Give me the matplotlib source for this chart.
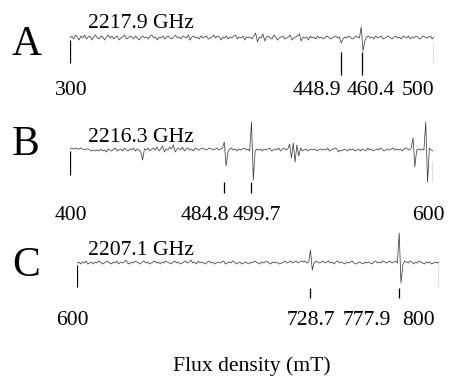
import numpy as np
import matplotlib
matplotlib.use('Agg')
import matplotlib.pyplot as plt

plt.rcParams['font.family'] = ['Liberation Serif', 'DejaVu Serif']

# spectra: signal deviation (px-ish units, up positive), sampled every 1 mT
sig_a = [0, 2, -1, 3, 1, -2, 2, 0, 3, -1, 1, 2, -2, 1, 3, 0, -1, 2, 1, -2,
         1, 3, 0, 2, -1, 1, 2, -2, 0, 1, 3, -1, 0, 2, 1, -1, 2, 0, -2, 1,
         2, 0, 1, -1, 2, 3, 0, 1, -2, 1, 0, 2, -1, 1, 2, 0, -1, 1, 3, 0,
         1, -1, 2, 1, 0, 3, -2, 1, 2, 0, 1, -1, 2, 0, 1, 2, -1, 0, 1, 3,
         0, 2, 1, -2, 1, 0, 2, -1, 1, 0, 2, 3, -1, 1, 0, 2, -2, 1, 0, 1,
         -1, 2, 5, -4, 1, 0, 4, -3, 1, 2, 0, -1, 3, 1, -2, 0, 1, 2, -1, 0,
         1, 3, -2, 0, 1, 2, 4, -3, 1, 0, 1, -2, 2, 0, 1, -1, 2, 0, 1, -1,
         0, 2, 1, -1, 0, 1, 2, 0, 1, -5, -1, 1, 0, 2, 1, -1, 0, 2, 1, 0,
         11, -13, -3, 1, 2, 0, 1, -1, 2, 0, 1, 2, -1, 0, 1, 2, 0, -1, 1, 2,
         0, 1, -1, 2, 1, 0, 2, -1, 1, 0, 2, 1, -1, 0, 2, 1, 0, 1, 2, -1, 1]

sig_b = [1, 2, 1, 2, 1, 1, 2, 1, 0, 1, 1, 0, -1, 0, -1, 0, -1, 1, -1, 0,
         -2, 1, 0, -1, 1, 2, -1, 0, 1, -1, 2, 0, -1, 1, 0, 2, -1, 1, 0, -2,
         -10, 1, 0, 2, -1, 1, 2, 0, 3, -1, 1, 4, -2, 1, 0, 3, 1, 5, -2, 1,
         2, 0, 3, -1, 1, 2, 0, 1, -1, 2, 1, 0, 1, 2, 1, 0, 1, 2, 1, 0,
         1, 2, 0, 1, 2, 8, -16, -2, 1, 2, 0, 1, -1, 1, 0, 1, 2, 0, 1, -1,
         28, -30, -1, 1, 0, 1, -1, 1, 0, 1, 2, -1, 0, 1, 0, 2, -1, 1, 2, 0,
         1, 6, -8, 7, -12, 5, -6, 2, -1, 0, 1, -1, 0, 1, 0, 1, -1, 0, 1, 0,
         1, 0, 2, -1, 0, 1, 2, 1, -2, 0, -1, 1, 0, -1, 1, 0, 1, -1, 0, 1,
         -1, 1, 0, -1, 2, 0, 1, -1, 0, 1, 0, 2, 1, -1, 0, 1, 0, 1, 2, 0,
         1, 0, 1, -1, 1, 2, 1, 0, 2, 12, -17, 0, 1, 0, 1, 0, 28, -32, 2, 0, -1]

sig_c = [0, 1, -1, 1, 0, 2, -1, 0, 1, -1, 1, 0, 2, 1, -1, 0, 1, 2, 0, -1,
         1, 0, 2, -1, 1, 0, 1, 3, 0, -1, 1, 0, 2, 1, 0, -1, 1, 2, 0, 1,
         -1, 0, 1, 2, 0, 1, -1, 1, 0, 2, 1, 0, -1, 1, 2, 0, 1, -1, 0, 1,
         2, 0, 1, 3, 0, 1, -1, 2, 0, 1, 0, -1, 1, 2, 0, 1, -1, 0, 1, 0,
         1, 2, -1, 0, 1, 0, 2, 1, -1, 0, 1, -1, 0, 1, 0, -1, 1, 0, 2, 1,
         0, -1, 1, 0, 1, 2, 0, -1, 1, 0, 1, 0, -1, 0, 1, 2, 0, 1, 2, 0,
         1, 2, 0, 1, 2, 1, 2, 0, 1, 13, -7, 0, 2, 1, 0, 1, 2, 0, 1, 2,
         0, 1, -1, 1, 2, 0, 1, 0, -1, 1, 0, 1, 2, 0, -1, 0, 1, 0, -1, 1,
         0, 1, 0, -1, 1, 2, 0, 1, 0, 2, 1, 0, 1, 2, 0, 1, 2, 0, 30, -20,
         -2, 2, 1, 0, 2, 1, -1, 1, 0, 2, 1, 0, -1, 1, 0, 1, -1, 0, 1, 0, 1]

start_a, start_b, start_c = 300, 400, 600
freqs = ['2217.9 GHz', '2216.3 GHz', '2207.1 GHz']
letters = ['A', 'B', 'C']
ticks_a = [300, 448.9, 460.4, 500]
ticks_b = [400, 484.8, 499.7, 600]
ticks_c = [600, 728.7, 777.9, 800]

W, H = 469, 388
FS = 15.6
fig = plt.figure(figsize=(W / 100, H / 100), dpi=100)


def panel(sig, start, ticks, left, right, base, tick_spans, lab_dx, lab_y,
          letter, freq, let_base, freq_base):
    # axes spans full figure height so 1 y-unit = 1 pixel
    ax = fig.add_axes([left / W, 0, (right - left) / W, 1])
    ax.set_xlim(ticks[0], ticks[-1])
    ax.set_ylim(-(H - base), base)
    ax.axis('off')
    x = start + np.arange(len(sig))
    ax.plot(x, sig, color='#404040', lw=0.55)
    for t, (y0, y1), dx in zip(ticks, tick_spans, lab_dx):
        ax.vlines(t, y1, y0, color='black', lw=0.9)
        lab = str(int(t)) if float(t).is_integer() else str(t)
        ax.text(t + dx, lab_y, lab, ha='center', va='baseline', fontsize=FS)
    fig.text(12 / W, 1 - let_base / H, letter, fontsize=30, va='baseline')
    fig.text(88 / W, 1 - freq_base / H, freq, fontsize=FS, va='baseline')


panel(sig_a, start_a, ticks_a, 70, 434, 38,
      [(-2, -25), (-14, -37), (-14, -37), (-4, -25)],
      [0.8, -13.0, 5.0, -8.8], -57, 'A', freqs[0], 55, 28)
panel(sig_b, start_b, ticks_b, 70, 433, 150,
      [(-1, -25), (-32, -43), (-32, -43), (-12, -31)],
      [0.5, -10.5, 3.0, -2.8], -70, 'B', freqs[1], 155, 142)
panel(sig_c, start_c, ticks_c, 77, 439, 263,
      [(-2, -24), (-25, -35), (-25, -35), (-1, -24)],
      [-2.8, 0.5, -17.7, -11.6], -62, 'C', freqs[2], 276, 255)

fig.text(252 / W, 1 - 371 / H, 'Flux density (mT)', fontsize=FS,
         ha='center', va='baseline')

fig.savefig('out.png', dpi=100)
